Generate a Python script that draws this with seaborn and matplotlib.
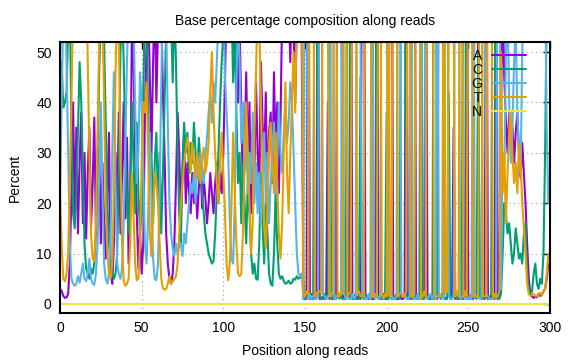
import matplotlib
matplotlib.use("Agg")
import matplotlib.pyplot as plt
import numpy as np
import pandas as pd
import seaborn as sns

# ---------------- data ----------------
positions = list(range(0, 300))
base_labels = ["A", "C", "G", "T", "N"]
colors = ["#9400d3", "#009e73", "#56b4e9", "#e69f00", "#f0e442"]

pct_a = [
    3, 2.6, 1.6, 1.2, 1.3, 2, 8, 22, 40, 18,
    35, 14, 28, 38, 16, 30, 13, 26, 35, 15,
    24, 37, 14, 20, 31, 12, 28, 16, 9, 22,
    34, 6, 4, 12, 30, 18, 38, 14, 26, 40,
    17, 33, 8, 20, 55, 48, 30, 18, 7, 14,
    6, 12, 38, 52, 60, 45, 30, 48, 62, 40,
    55, 65, 58, 42, 30, 14, 8, 5, 4, 6,
    12, 24, 38, 30, 18, 26, 34, 20, 28, 22,
    18, 26, 20, 24, 17, 23, 28, 19, 25, 21,
    16, 20, 26, 22, 18, 24, 28, 20, 26, 22,
    30, 44, 62, 70, 58, 66, 74, 60, 50, 40,
    55, 38, 22, 30, 46, 28, 40, 18, 34, 26,
    44, 30, 22, 48, 36, 28, 42, 20, 34, 38,
    24, 46, 30, 40, 22, 36, 58, 66, 54, 70,
    60, 48, 62, 55, 40, 56, 64, 70, 52, 1,
    1, 1.5, 95, 1, 2, 1, 1.5, 1, 94, 1,
    1, 1.5, 1, 2, 40, 1, 1.5, 1, 1, 2,
    95, 96, 94, 1, 1.5, 1, 2, 1, 95, 1,
    1, 2, 1, 1.5, 1, 95, 96, 1, 1.5, 1,
    1.5, 1, 1, 2, 95, 1, 1.5, 1, 2, 1,
    1, 1.5, 95, 96, 1, 1.5, 1, 1, 2, 1,
    1, 1.5, 95, 1, 2, 1, 96, 95, 1, 1.5,
    1, 2, 1, 1.5, 95, 1, 1.5, 1, 2, 1,
    1.5, 1, 95, 96, 94, 1, 1, 1.5, 2, 1,
    1, 35, 1, 1.5, 1, 1, 2, 1, 1.5, 96,
    1, 1.5, 1, 1, 95, 96, 47, 2, 1, 1.5,
    1, 95, 1, 1.5, 1, 2, 1, 96, 1, 1.5,
    40, 60, 45, 36, 30, 38, 32, 35, 28, 34,
    38, 30, 25, 32, 26, 20, 12, 5, 2, 1.5,
    1.2, 1.5, 1.3, 2, 1.6, 1.8, 2.5, 3, 5, 8,
]

pct_c = [
    30, 48, 39, 40, 42, 55, 60, 35, 18, 15,
    22, 34, 48, 40, 26, 12, 7, 6, 5, 7,
    6, 8, 14, 30, 46, 58, 65, 52, 36, 20,
    12, 8, 6, 5, 6, 10, 26, 50, 60, 48,
    32, 20, 14, 24, 40, 28, 18, 36, 22, 14,
    18, 42, 60, 56, 38, 24, 30, 16, 28, 34,
    20, 30, 14, 26, 40, 55, 64, 70, 58, 44,
    60, 48, 30, 18, 12, 28, 36, 30, 34, 26,
    32, 28, 36, 30, 25, 33, 28, 22, 18, 14,
    12, 10, 9, 8, 8.5, 14, 22, 30, 40, 48,
    54, 62, 58, 66, 52, 60, 44, 56, 38, 24,
    30, 16, 28, 20, 12, 24, 18, 10, 6, 8,
    5, 4.8, 12, 26, 16, 8, 20, 14, 6, 4,
    3.6, 10, 22, 12, 6, 5, 5.5, 4.5, 4, 4.2,
    4.6, 4, 4.2, 5, 4.8, 5.5, 5, 5.2, 6, 5,
    1.5, 1, 2, 1.5, 1, 1, 95, 96, 2, 1.5,
    1, 1, 2, 1, 1.5, 96, 1, 1.5, 2, 1,
    2, 1, 1.5, 1, 1, 2, 95, 96, 1.5, 1,
    1.5, 1, 1, 1, 45, 1.5, 1, 2, 1, 1.5,
    1, 1.5, 96, 95, 2, 1.5, 1, 1.5, 1, 1,
    38, 1, 2, 1, 1.5, 1, 2, 1.5, 1, 95,
    96, 95, 1.5, 1.5, 1, 1.5, 1, 2, 1.5, 1,
    1.5, 96, 1.5, 1, 2, 1.5, 1, 1, 1, 95,
    96, 1.5, 2, 1, 2, 1.5, 1, 1, 42, 1.5,
    1.5, 2, 1.5, 1, 1.5, 1.5, 1, 96, 95, 1.5,
    1.5, 1, 2, 1.5, 1.5, 1, 50, 1, 1.5, 1,
    1.5, 1.5, 1, 1, 2, 96, 95, 1.5, 1.5, 1,
    2, 10, 20, 18, 14, 16, 12, 8, 10, 15,
    12, 9, 10, 8, 14, 16, 6, 3, 2, 2.5,
    6, 8, 4, 3, 5, 4, 10, 30, 60, 70,
]

pct_g = [
    20, 40, 58, 62, 48, 30, 12, 5, 4, 3.6,
    4, 5.5, 4.2, 6, 8, 5, 4.5, 6, 9, 5,
    4, 3.8, 6, 12, 26, 40, 22, 8, 5, 4,
    6, 14, 30, 46, 24, 8, 6, 5, 7, 16,
    32, 48, 60, 54, 66, 58, 40, 24, 30, 46,
    40, 26, 12, 8, 18, 34, 20, 9, 5, 4.7,
    8, 22, 44, 62, 70, 56, 36, 20, 14, 11,
    9.5, 12, 10, 11.5, 12, 9.5, 14, 12, 16, 20,
    24, 22, 26, 20, 28, 25, 30, 27, 24, 29,
    33, 38, 42, 36, 44, 40, 48, 56, 64, 52,
    60, 45, 38, 30, 16, 9, 8, 20, 44, 58,
    48, 32, 40, 26, 34, 22, 30, 24, 38, 20,
    28, 18, 26, 16, 24, 34, 20, 30, 16, 24,
    30, 36, 22, 28, 40, 30, 26, 34, 40, 32,
    36, 44, 40, 30, 20, 10, 6, 5.5, 6, 1,
    96, 95, 1, 2, 1, 1.5, 2, 1, 1.5, 95,
    96, 2, 1.5, 1, 1.5, 1.5, 96, 95, 1, 1.5,
    1.5, 1.5, 2, 96, 2, 1, 1.5, 1, 1, 2,
    1, 1.5, 96, 95, 52, 2, 1.5, 1, 1, 2,
    1, 96, 1.5, 1, 1.5, 1, 1.5, 95, 96, 96,
    59, 2, 1.5, 1.5, 1, 1, 1.5, 96, 95, 2,
    1.5, 2, 1, 1, 1.5, 96, 1.5, 1, 1, 2,
    1, 1, 96, 95, 1.5, 1, 1.5, 2, 1, 2,
    1, 96, 1.5, 1.5, 1.5, 1, 96, 95, 1.5, 1,
    1, 1.5, 96, 95, 96, 1, 1.5, 1.5, 1, 1,
    1, 1.5, 1, 96, 2, 1.5, 1.5, 1, 1, 96,
    96, 2, 1.5, 1, 1, 1, 2, 1, 96, 95,
    3, 30, 26, 50, 60, 40, 28, 35, 48, 55,
    38, 30, 26, 50, 62, 70, 80, 90, 94, 93,
    90, 88, 92, 93, 91, 92, 85, 65, 35, 20,
]

pct_t = [
    22, 12, 5, 4.5, 6, 10, 24, 40, 60, 55,
    62, 70, 58, 64, 54, 60, 68, 48, 30, 14,
    9, 8.5, 16, 34, 52, 62, 58, 40, 20, 10,
    6, 5, 8, 22, 46, 60, 54, 30, 12, 4.5,
    3.6, 4, 5, 12, 26, 18, 8, 4.7, 5, 12,
    28, 40, 38, 44, 30, 14, 9.5, 18, 26, 24,
    20, 12, 5, 3.2, 2.8, 3, 4, 5.5, 4, 4.5,
    5, 5.5, 8, 14, 20, 24, 28, 31, 33, 30,
    26, 32, 28, 25, 30, 27, 24, 29, 31, 26,
    28, 32, 42, 50, 38, 30, 24, 20, 28, 34,
    26, 18, 8, 4.7, 8, 20, 34, 22, 12, 6,
    5.5, 6, 14, 28, 40, 30, 20, 10, 16, 34,
    46, 60, 56, 40, 24, 16, 11, 20, 32, 36,
    28, 22, 34, 24, 14, 9, 16, 30, 44, 26,
    18, 30, 40, 50, 38, 60, 66, 58, 70, 2,
    1.5, 2.5, 2, 95.5, 96, 96.5, 1.5, 2, 2.5, 2.5,
    2, 95.5, 95.5, 96, 57, 1.5, 1.5, 2.5, 96, 95.5,
    1.5, 1.5, 2.5, 2, 95.5, 96, 1.5, 2, 2.5, 96,
    96.5, 95.5, 2, 2.5, 1.5, 1.5, 1.5, 96, 96.5, 95.5,
    96.5, 1.5, 1.5, 2, 1.5, 96.5, 96, 2.5, 1, 2,
    1.5, 95.5, 1.5, 1.5, 96.5, 96.5, 95.5, 1.5, 2, 2,
    1.5, 1.5, 2.5, 96.5, 95.5, 1.5, 1.5, 2, 96.5, 95.5,
    96.5, 1, 1.5, 2.5, 1.5, 96.5, 96, 96, 96, 2,
    1.5, 1.5, 1.5, 1.5, 2.5, 96.5, 2, 2.5, 55, 96.5,
    96.5, 62, 1.5, 2.5, 1.5, 96.5, 95.5, 1.5, 2.5, 1.5,
    96.5, 96, 96, 1.5, 1.5, 1.5, 1.5, 96, 96.5, 1.5,
    1.5, 1.5, 96.5, 96.5, 96, 1, 2, 1.5, 1.5, 2.5,
    50, 22, 30, 16, 26, 34, 38, 30, 24, 28,
    22, 32, 28, 20, 15, 10, 4, 2, 1.6, 1.8,
    2, 1.6, 1.5, 1.8, 2.2, 1.7, 2.5, 3, 6, 10,
]

pct_n = [0] * 300

x_ticks = [0, 50, 100, 150, 200, 250, 300]
y_ticks = [0, 10, 20, 30, 40, 50]

# ---------------- plotting ----------------
sns.set_theme(style="white")
plt.rcParams["font.family"] = ["Liberation Sans", "DejaVu Sans"]

series = [pct_a, pct_c, pct_g, pct_t, pct_n]
df = pd.DataFrame({
    "pos": positions * len(series),
    "pct": [v for s in series for v in s],
    "base": [b for b, s in zip(base_labels, series) for _ in s],
})

fig = plt.figure(figsize=(5.76, 3.6), dpi=100)
ax = fig.add_axes([60 / 576, 1 - 313 / 360, 490 / 576, 271 / 360])

sns.lineplot(data=df, x="pos", y="pct", hue="base", hue_order=base_labels,
             palette=colors, linewidth=1.5, estimator=None, sort=False,
             legend=False, ax=ax)

ax.set_xlim(0, 300)
ax.set_ylim(-1.8, 52)
ax.set_xticks(x_ticks)
ax.set_yticks(y_ticks)
ax.grid(True, linestyle=(0, (1, 3)), color="#a0a0a0", linewidth=0.8)
ax.set_axisbelow(True)
for sp in ax.spines.values():
    sp.set_color("black")
    sp.set_linewidth(1.5)
ax.tick_params(direction="in", length=5, width=1, top=True, right=True,
               labelsize=10, colors="black", pad=6)

ax.set_xlabel("Position along reads", fontsize=10, color="black", labelpad=6)
ax.set_ylabel("Percent", fontsize=10, color="black", labelpad=10)
ax.set_title("Base percentage composition along reads", fontsize=10,
             color="black", pad=12)

handles = ax.lines[:5]
leg = ax.legend(handles, base_labels, loc="upper right",
                bbox_to_anchor=(0.962, 0.995), frameon=False,
                markerfirst=False, fontsize=10, handlelength=2.45,
                labelspacing=0.0, handletextpad=0.7, borderaxespad=0,
                labelcolor="black")
leg.set_zorder(3)

fig.savefig("out.png", dpi=100)
